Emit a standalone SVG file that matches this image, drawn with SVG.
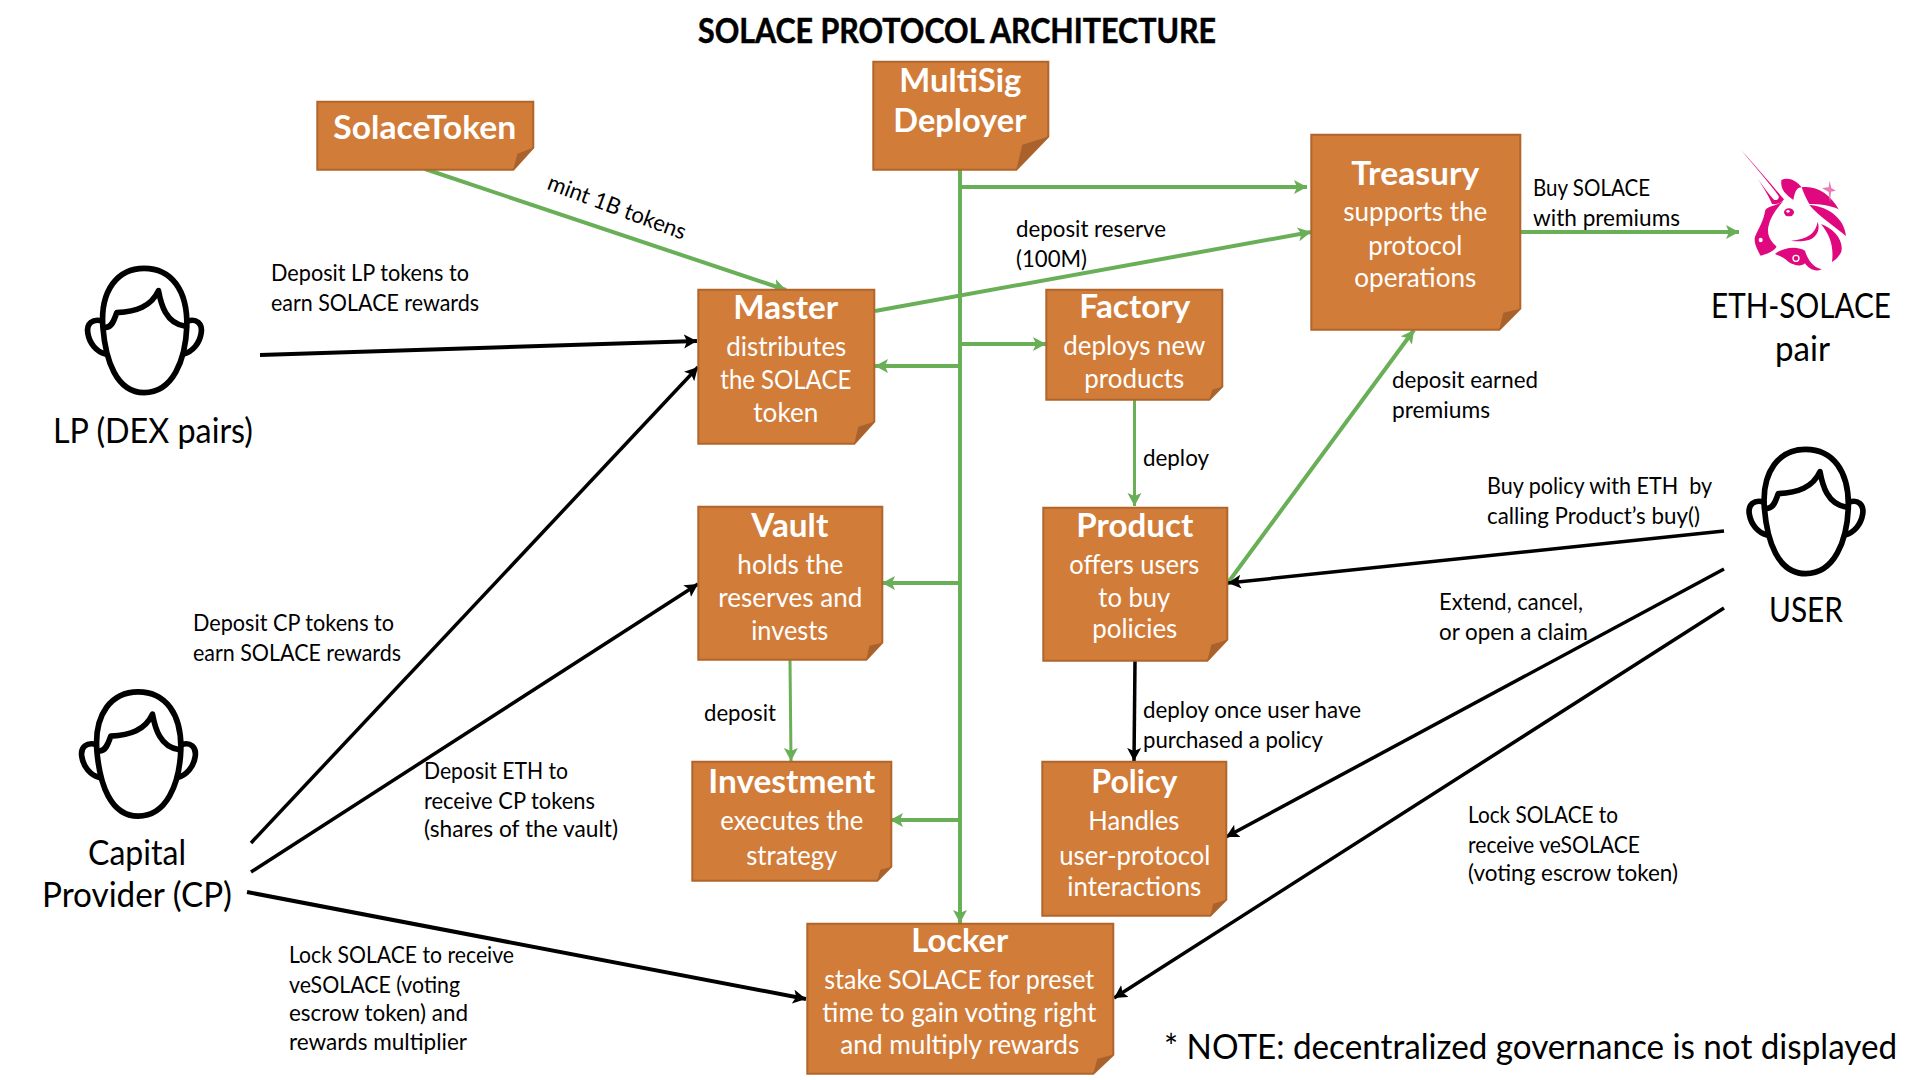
<svg xmlns="http://www.w3.org/2000/svg" xmlns:xlink="http://www.w3.org/1999/xlink" width="1920" height="1080" viewBox="0 0 1920 1080">
<style>
text{font-family:Lato,"Liberation Sans",sans-serif;fill:#000}
.t{font-size:34px;font-weight:700;stroke:#000;stroke-width:.5px}
.l{font-size:22.5px}
.p{font-size:34px}
.h{font-size:33px;font-weight:700;fill:#fff}
.s{font-size:27.5px;fill:#fff}
.box{fill:#D27C39;stroke:#B0652C;stroke-width:2}
.fold{fill:#A9622C}
.g{fill:none;stroke:#69AF57;stroke-width:4;marker-end:url(#ga)}
.k{fill:none;stroke:#000;stroke-width:3.5;marker-end:url(#ka)}
.hd{fill:none;stroke:#000;stroke-width:17;stroke-linecap:round;stroke-linejoin:round}
.u{fill:#E0087E}
</style>
<defs>
<marker id="ga" markerUnits="userSpaceOnUse" markerWidth="16" markerHeight="16" refX="13" refY="7" orient="auto"><path d="M0 0L13 7L0 14L3 7Z" fill="#69AF57"/></marker>
<marker id="ka" markerUnits="userSpaceOnUse" markerWidth="16" markerHeight="16" refX="13" refY="7" orient="auto"><path d="M0 0L13 7L0 14L3 7Z" fill="#000"/></marker>
<g id="person" class="hd">
<path d="M130 230C122 120 175 55 254 55C335 55 385 120 382 230C378 330 340 428 254 428C170 428 138 330 130 230Z"/>
<path d="M140 232C160 230 165 205 172 188C230 185 275 170 297 122C305 165 320 220 375 228"/>
<path d="M128 213C100 205 80 220 85 250C90 280 110 305 138 312"/>
<path d="M385 213C410 205 430 220 425 250C420 280 400 305 372 312"/>
</g>
</defs>
<rect width="1920" height="1080" fill="#fff"/>
<text id="title" class="t" x="698" y="43" textLength="518" lengthAdjust="spacingAndGlyphs">SOLACE PROTOCOL ARCHITECTURE</text>

<g id="connectors">
<path class="g" d="M425 169L786 290"/>
<path d="M960 169L960 923" class="g"/>
<path class="g" d="M960 187H1307"/>
<path class="g" d="M960 344H1046"/>
<path class="g" d="M960 366H875"/>
<path class="g" d="M960 583H882"/>
<path class="g" d="M958 820H890"/>
<path class="g" d="M875 311L1311 232"/>
<path class="g" d="M1520 232H1739"/>
<path class="g" style="stroke-width:3" d="M1134.500 399V506"/>
<path class="g" d="M1227 584L1414 330"/>
<path class="g" style="stroke-width:3" d="M790 660L791 761"/>
<path class="k" style="stroke-width:4" d="M260 355L697 341"/>
<path class="k" d="M251 843L698 367"/>
<path class="k" d="M251 872L698 584"/>
<path class="k" style="stroke-width:4" d="M247 892L806 999"/>
<path class="k" d="M1724 531L1228 583"/>
<path class="k" d="M1724 569L1226 837"/>
<path class="k" d="M1724 608L1114 998"/>
<path class="k" d="M1135 661L1134 761"/>
</g>

<g id="nodes" transform="translate(.3 .7)">
<g id="SolaceToken">
<path class="box" d="M317 101H533V147L513 169H317Z"/><path class="fold" d="M513 169L533 147L517 153Z"/>
<text class="h" x="333" y="138" textLength="183" lengthAdjust="spacingAndGlyphs">SolaceToken</text>
</g>
<g id="MultiSig">
<path class="box" d="M873 61H1048V136L1016 169H873Z"/><path class="fold" d="M1016 169L1048 136L1022 144Z"/>
<text class="h" x="899" y="91" textLength="122" lengthAdjust="spacingAndGlyphs">MultiSig</text>
<text class="h" x="893" y="131" textLength="133" lengthAdjust="spacingAndGlyphs">Deployer</text>
</g>
<g id="Treasury">
<path class="box" d="M1311 134H1520V308L1499 329H1311Z"/><path class="fold" d="M1499 329L1520 308L1503 312Z"/>
<text class="h" x="1351" y="184" textLength="128" lengthAdjust="spacingAndGlyphs">Treasury</text>
<text class="s" x="1343" y="220" textLength="144" lengthAdjust="spacingAndGlyphs">supports the</text>
<text class="s" x="1368" y="254" textLength="94" lengthAdjust="spacingAndGlyphs">protocol</text>
<text class="s" x="1354" y="286" textLength="122" lengthAdjust="spacingAndGlyphs">operations</text>
</g>
<g id="Master">
<path class="box" d="M698 289H874V421L854 443H698Z"/><path class="fold" d="M854 443L874 421L858 426Z"/>
<text class="h" x="733" y="318" textLength="105" lengthAdjust="spacingAndGlyphs">Master</text>
<text class="s" x="726" y="355" textLength="120" lengthAdjust="spacingAndGlyphs">distributes</text>
<text class="s" x="720" y="388" textLength="131" lengthAdjust="spacingAndGlyphs">the SOLACE</text>
<text class="s" x="753" y="421" textLength="65" lengthAdjust="spacingAndGlyphs">token</text>
</g>
<g id="Factory">
<path class="box" d="M1046 289H1222V386L1209 399H1046Z"/><path class="fold" d="M1209 399L1222 386L1212 389Z"/>
<text class="h" x="1079" y="317" textLength="111" lengthAdjust="spacingAndGlyphs">Factory</text>
<text class="s" x="1063" y="354" textLength="142" lengthAdjust="spacingAndGlyphs">deploys new</text>
<text class="s" x="1084" y="387" textLength="100" lengthAdjust="spacingAndGlyphs">products</text>
</g>
<g id="Vault">
<path class="box" d="M698 506H882V642L866 659H698Z"/><path class="fold" d="M866 659L882 642L869 645Z"/>
<text class="h" x="751" y="536" textLength="77" lengthAdjust="spacingAndGlyphs">Vault</text>
<text class="s" x="737" y="573" textLength="106" lengthAdjust="spacingAndGlyphs">holds the</text>
<text class="s" x="718" y="606" textLength="144" lengthAdjust="spacingAndGlyphs">reserves and</text>
<text class="s" x="751" y="639" textLength="77" lengthAdjust="spacingAndGlyphs">invests</text>
</g>
<g id="Product">
<path class="box" d="M1043 507H1227V639L1207 660H1043Z"/><path class="fold" d="M1207 660L1227 639L1211 644Z"/>
<text class="h" x="1076" y="536" textLength="117" lengthAdjust="spacingAndGlyphs">Product</text>
<text class="s" x="1069" y="573" textLength="130" lengthAdjust="spacingAndGlyphs">offers users</text>
<text class="s" x="1098" y="606" textLength="72" lengthAdjust="spacingAndGlyphs">to buy</text>
<text class="s" x="1092" y="637" textLength="85" lengthAdjust="spacingAndGlyphs">policies</text>
</g>
<g id="Investment">
<path class="box" d="M692 761H891V866L877 880H692Z"/><path class="fold" d="M877 880L891 866L880 869Z"/>
<text class="h" x="708" y="792" textLength="167" lengthAdjust="spacingAndGlyphs">Investment</text>
<text class="s" x="720" y="829" textLength="143" lengthAdjust="spacingAndGlyphs">executes the</text>
<text class="s" x="746" y="864" textLength="91" lengthAdjust="spacingAndGlyphs">strategy</text>
</g>
<g id="Policy">
<path class="box" d="M1042 761H1226V899L1210 915H1042Z"/><path class="fold" d="M1210 915L1226 899L1213 903Z"/>
<text class="h" x="1091" y="792" textLength="86" lengthAdjust="spacingAndGlyphs">Policy</text>
<text class="s" x="1088" y="829" textLength="91" lengthAdjust="spacingAndGlyphs">Handles</text>
<text class="s" x="1059" y="864" textLength="151" lengthAdjust="spacingAndGlyphs">user-protocol</text>
<text class="s" x="1067" y="895" textLength="134" lengthAdjust="spacingAndGlyphs">interactions</text>
</g>
<g id="Locker">
<path class="box" d="M807 923H1113V1054L1093 1073H807Z"/><path class="fold" d="M1093 1073L1113 1054L1097 1058Z"/>
<text class="h" x="911" y="951" textLength="97" lengthAdjust="spacingAndGlyphs">Locker</text>
<text class="s" x="824" y="988" textLength="270" lengthAdjust="spacingAndGlyphs">stake SOLACE for preset</text>
<text class="s" x="822" y="1021" textLength="274" lengthAdjust="spacingAndGlyphs">time to gain voting right</text>
<text class="s" x="840" y="1053" textLength="239" lengthAdjust="spacingAndGlyphs">and multiply rewards</text>
</g>
</g>

<g id="LP">
<use xlink:href="#person" href="#person" transform="translate(59.500 250) scale(.3333)"/>
<text class="p" x="53" y="443" textLength="200" lengthAdjust="spacingAndGlyphs">LP (DEX pairs)</text>
</g>
<g id="CP">
<use xlink:href="#person" href="#person" transform="translate(53.500 673.500) scale(.3333)"/>
<text class="p" x="88" y="865" textLength="98" lengthAdjust="spacingAndGlyphs">Capital</text>
<text class="p" x="42" y="907" textLength="190" lengthAdjust="spacingAndGlyphs">Provider (CP)</text>
</g>
<g id="USER">
<use xlink:href="#person" href="#person" transform="translate(1721 431) scale(.3333)"/>
<text class="p" x="1769" y="622" textLength="74" lengthAdjust="spacingAndGlyphs">USER</text>
</g>
<g id="ETH-SOLACE">
<g transform="translate(1720 130) scale(.3333)">
<path class="u" d="M65 62C100 100 165 175 192 208C185 220 172 224 156 222C145 195 125 165 112 145C130 170 150 198 163 210C172 212 178 206 176 198C150 160 100 105 65 62Z"/>
<path class="u" d="M190 214C170 228 150 225 136 240C130 275 118 290 105 320C100 340 115 365 122 377C140 372 160 365 170 350C155 335 140 320 145 290C150 265 165 240 190 214Z"/>
<ellipse cx="122" cy="330" rx="6" ry="7" fill="#fff"/>
<path class="u" d="M184 150C210 138 235 158 245 172C228 172 224 190 220 210C200 195 180 180 184 150Z"/>
<path class="u" d="M245 172C285 165 330 190 356 238C330 225 295 222 268 222C255 200 250 185 245 172Z"/>
<path class="u" d="M268 225C315 228 372 258 378 318C345 290 300 262 268 225Z"/>
<path class="u" d="M303 282C340 295 372 330 364 365C357 380 347 390 336 396C342 350 330 315 303 282Z"/>
<ellipse class="u" cx="207" cy="247" rx="15" ry="12"/>
<ellipse cx="204" cy="244" rx="5" ry="4" fill="#fff"/>
<path class="u" d="M213 332C250 328 285 320 293 275C302 300 290 328 255 332C240 334 225 334 213 332Z"/>
<path class="u" d="M165 372C185 355 225 345 255 362C262 385 275 410 305 418C285 428 265 415 255 400C245 410 225 408 205 395C195 385 180 378 165 372Z"/>
<circle cx="228" cy="385" r="9" fill="none" stroke="#fff" stroke-width="4"/>
<path d="M329 152L334 174L348 182L333 185L330 218L326 186L306 174L326 172Z" fill="#EC7AB5"/>
</g>
<text class="p" x="1711" y="318" textLength="180" lengthAdjust="spacingAndGlyphs">ETH-SOLACE</text>
<text class="p" x="1775" y="361" textLength="55" lengthAdjust="spacingAndGlyphs">pair</text>
</g>

<g id="labels" transform="translate(0 .8)">
<text class="l" transform="translate(546 188) rotate(20.500)" textLength="146" lengthAdjust="spacingAndGlyphs">mint 1B tokens</text>
<text class="l" x="271" y="280" textLength="198" lengthAdjust="spacingAndGlyphs">Deposit LP tokens to</text>
<text class="l" x="271" y="310" textLength="208" lengthAdjust="spacingAndGlyphs">earn SOLACE rewards</text>
<text class="l" x="1016" y="236" textLength="150" lengthAdjust="spacingAndGlyphs">deposit reserve</text>
<text class="l" x="1016" y="266" textLength="71" lengthAdjust="spacingAndGlyphs">(100M)</text>
<text class="l" x="1533" y="195" textLength="117" lengthAdjust="spacingAndGlyphs">Buy SOLACE</text>
<text class="l" x="1533" y="225" textLength="147" lengthAdjust="spacingAndGlyphs">with premiums</text>
<text class="l" x="1392" y="387" textLength="146" lengthAdjust="spacingAndGlyphs">deposit earned</text>
<text class="l" x="1392" y="417" textLength="98" lengthAdjust="spacingAndGlyphs">premiums</text>
<text class="l" x="1143" y="465" textLength="66" lengthAdjust="spacingAndGlyphs">deploy</text>
<text class="l" x="1487" y="493" textLength="225" lengthAdjust="spacingAndGlyphs" xml:space="preserve">Buy policy with ETH  by</text>
<text class="l" x="1487" y="523" textLength="213" lengthAdjust="spacingAndGlyphs">calling Product’s buy()</text>
<text class="l" x="1439" y="609" textLength="144" lengthAdjust="spacingAndGlyphs">Extend, cancel,</text>
<text class="l" x="1439" y="639" textLength="149" lengthAdjust="spacingAndGlyphs">or open a claim</text>
<text class="l" x="1143" y="717" textLength="218" lengthAdjust="spacingAndGlyphs">deploy once user have</text>
<text class="l" x="1143" y="747" textLength="180" lengthAdjust="spacingAndGlyphs">purchased a policy</text>
<text class="l" x="1468" y="822" textLength="150" lengthAdjust="spacingAndGlyphs">Lock SOLACE to</text>
<text class="l" x="1468" y="852" textLength="172" lengthAdjust="spacingAndGlyphs">receive veSOLACE</text>
<text class="l" x="1468" y="880" textLength="210" lengthAdjust="spacingAndGlyphs">(voting escrow token)</text>
<text class="l" x="193" y="630" textLength="201" lengthAdjust="spacingAndGlyphs">Deposit CP tokens to</text>
<text class="l" x="193" y="660" textLength="208" lengthAdjust="spacingAndGlyphs">earn SOLACE rewards</text>
<text class="l" x="424" y="778" textLength="144" lengthAdjust="spacingAndGlyphs">Deposit ETH to</text>
<text class="l" x="424" y="808" textLength="171" lengthAdjust="spacingAndGlyphs">receive CP tokens</text>
<text class="l" x="424" y="836" textLength="194" lengthAdjust="spacingAndGlyphs">(shares of the vault)</text>
<text class="l" x="704" y="720" textLength="72" lengthAdjust="spacingAndGlyphs">deposit</text>
<text class="l" x="289" y="962" textLength="225" lengthAdjust="spacingAndGlyphs">Lock SOLACE to receive</text>
<text class="l" x="289" y="992" textLength="171" lengthAdjust="spacingAndGlyphs">veSOLACE (voting</text>
<text class="l" x="289" y="1020" textLength="179" lengthAdjust="spacingAndGlyphs">escrow token) and</text>
<text class="l" x="289" y="1049" textLength="178" lengthAdjust="spacingAndGlyphs">rewards multiplier</text>
<text class="p" x="1164" y="1058" style="font-size:34px" textLength="733" lengthAdjust="spacingAndGlyphs">* NOTE: decentralized governance is not displayed</text>
</g>
</svg>
